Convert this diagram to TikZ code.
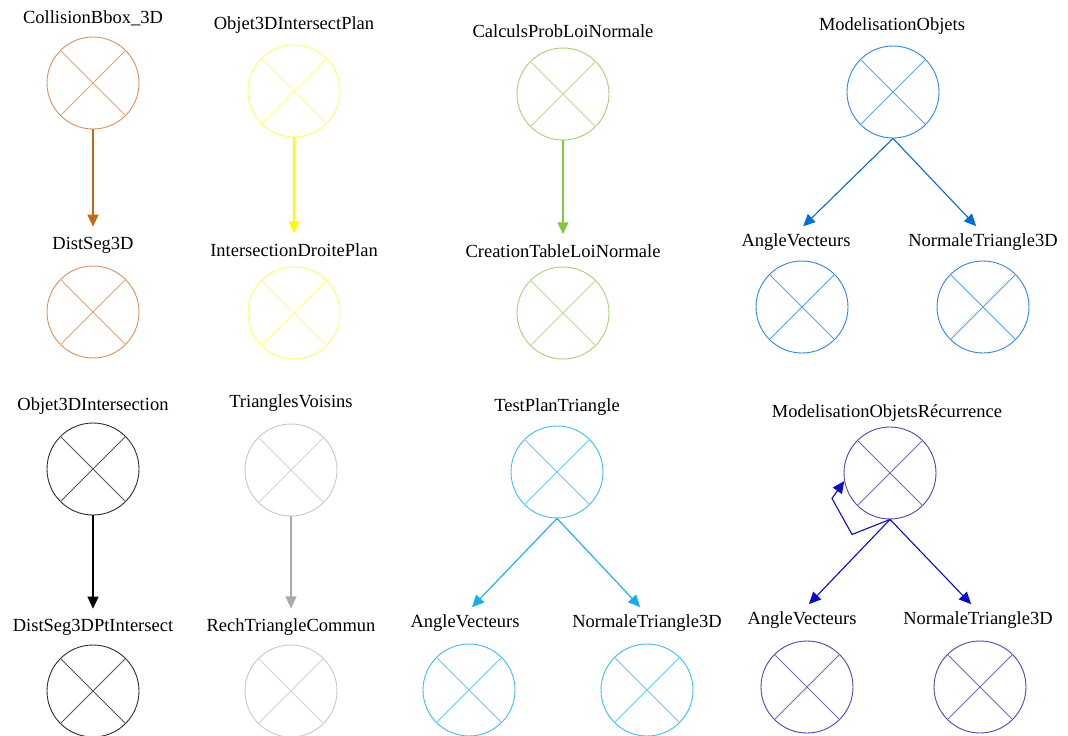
\documentclass[tikz,border=0pt]{standalone}
\usepackage{fontspec}
\setmainfont{Liberation Serif}
\usepackage{tikz}
\usetikzlibrary{arrows.meta}
\usetikzlibrary{positioning}

\definecolor{brun}{RGB}{217,145,90}
\definecolor{brunF}{RGB}{195,105,20}
\definecolor{jaune}{RGB}{255,255,95}
\definecolor{jauneF}{RGB}{255,250,0}
\definecolor{vert}{RGB}{168,208,120}
\definecolor{vertF}{RGB}{130,200,60}
\definecolor{bleu}{RGB}{45,135,230}
\definecolor{bleuF}{RGB}{0,110,215}
\definecolor{noir}{RGB}{45,45,45}
\definecolor{noirF}{RGB}{0,0,0}
\definecolor{gris}{RGB}{200,200,200}
\definecolor{grisF}{RGB}{170,170,170}
\definecolor{cyan}{RGB}{60,190,240}
\definecolor{cyanF}{RGB}{20,175,235}
\definecolor{violet}{RGB}{85,65,180}
\definecolor{violetF}{RGB}{10,10,200}

\begin{document}
\begin{tikzpicture}[
x=1pt, y=-1pt,
fonction/.style={circle, draw=#1, line width=0.9pt, minimum size=92pt, inner sep=0},
etiquette/.style={inner sep=0, font=\fontsize{18.5}{20}\selectfont},
dep/.style={-{Triangle[length=12pt,width=11pt]}, line width=1.1pt, shorten >=10pt, draw=#1}
]
\useasboundingbox (0,0) rectangle (1068,736);
% Fonctions
\foreach \n/\x/\y/\c in {cb/93/83/brun, ds/93/312/brun,
    oip/294/91/jaune, idp/294/313/jaune,
    cpl/563/94/vert, ctl/563/313/vert,
    mo/893/92/bleu, avA/802/307/bleu, ntA/983/307/bleu,
    oi/93/469/noir, dsp/93/691/noir,
    tv/291/470/gris, rtc/291/691/gris,
    tpt/557/472/cyan, avB/469/690/cyan, ntB/647/690/cyan,
    mor/890/473/violet, avC/807/687/violet, ntC/980/687/violet}{
    \node[fonction=\c] (\n) at (\x,\y) {};
    \draw[\c!80, line width=0.8pt] (\n.45) -- (\n.225) (\n.135) -- (\n.315);
}
% Noms
\foreach \n/\x/\y/\t in {cb/93/18/CollisionBbox\_3D, ds/93/245/DistSeg3D,
    oip/294/25/Objet3DIntersectPlan, idp/294/250/IntersectionDroitePlan,
    cpl/563/31/CalculsProbLoiNormale, ctl/563/251/CreationTableLoiNormale,
    mo/892/26/ModelisationObjets, avA/796/242/AngleVecteurs, ntA/983/242/NormaleTriangle3D,
    oi/93/406/Objet3DIntersection, dsp/93/627/DistSeg3DPtIntersect,
    tv/291/403/TrianglesVoisins, rtc/291/627/RechTriangleCommun,
    tpt/557/407/TestPlanTriangle, avB/465/623/AngleVecteurs, ntB/647/623/NormaleTriangle3D,
    mor/887/413/ModelisationObjetsRécurrence, avC/802/620/AngleVecteurs, ntC/978/620/NormaleTriangle3D}{
    \node[etiquette] (\n-t) at (\x,\y) {\t};
}
% Appels
\draw[dep=brunF] (cb.south) -- (ds-t.north);
\draw[dep=jauneF] (oip.south) -- (idp-t.north);
\draw[dep=vertF] (cpl.south) -- (ctl-t.north);
\draw[dep=bleuF] (mo.south) -- (avA-t.north);
\draw[dep=bleuF] (mo.south) -- (ntA-t.north);
\draw[dep=noirF] (oi.south) -- (dsp-t.north);
\draw[dep=grisF] (tv.south) -- (rtc-t.north);
\draw[dep=cyanF] (tpt.south) -- (avB-t.north);
\draw[dep=cyanF] (tpt.south) -- (ntB-t.north);
\draw[dep=violetF] (mor.south) -- (avC-t.north);
\draw[dep=violetF] (mor.south) -- (ntC-t.north);
\draw[dep=violetF, shorten >=0pt] (mor.south) -- ++(-38,15) -- ++(-20,-36) -- (mor.190);
\end{tikzpicture}
\end{document}
